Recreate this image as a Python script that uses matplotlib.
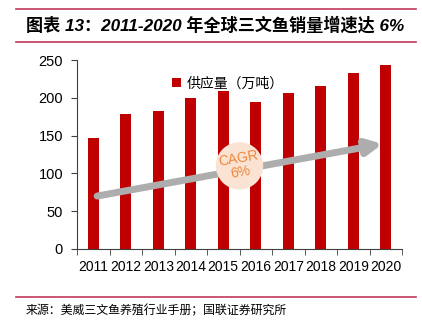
import matplotlib
matplotlib.use("Agg")
import matplotlib.pyplot as plt
from matplotlib.patches import Ellipse

plt.rcParams['font.family'] = ['Liberation Sans', 'Noto Sans CJK SC', 'DejaVu Sans']

years = ['2011', '2012', '2013', '2014', '2015', '2016', '2017', '2018', '2019', '2020']
supply = [147, 179, 183, 200, 209, 195, 207, 215, 233, 244]
trend_start = (0.12, 70)
trend_end = (8.9, 139)
series_name = '供应量（万吨）'
title = '图表 13：2011-2020 年全球三文鱼销量增速达 6%'
source = '来源：美威三文鱼养殖行业手册；国联证券研究所'

red = '#C00000'
line_red = '#C0395A'

fig = plt.figure(figsize=(4.22, 3.23), dpi=100)
ax = fig.add_axes([77/422, 1-249/323, 325/422, 189/323])

x = list(range(len(years)))
ax.bar(x, supply, width=0.33, color=red, label=series_name, zorder=2)

ax.set_xlim(-0.5, len(years) - 0.5)
ax.set_ylim(0, 250)
ax.set_yticks([0, 50, 100, 150, 200, 250])
ax.set_xticks(x)
ax.set_xticklabels(years)
ax.set_xticks([i - 0.5 for i in range(len(years) + 1)], minor=True)
ax.tick_params(axis='x', which='major', length=0, pad=8, labelsize=10)
ax.tick_params(axis='x', which='minor', length=4, direction='out', color='#404040')
ax.tick_params(axis='y', length=4, direction='out', labelsize=10.5, pad=6, color='#404040')
for s in ['top', 'right']:
    ax.spines[s].set_visible(False)
ax.spines['left'].set_color('#404040')
ax.spines['bottom'].set_color('#404040')

# trend arrow
ax.annotate('', xy=trend_end, xytext=trend_start,
            arrowprops=dict(arrowstyle='-|>,head_length=0.9,head_width=0.45', lw=5,
                            color='#ADADAD', shrinkA=0, shrinkB=0), zorder=3)

# CAGR bubble
bx, by = 4.5, 110
ell = Ellipse((bx, by), width=46/32.5, height=46/0.756, color='#FBE3D3', zorder=4)
ax.add_patch(ell)
ax.text(bx, by, 'CAGR\n6%', ha='center', va='center', color='#F0863C', fontsize=10,
        rotation=10, linespacing=1.0, zorder=5)

leg = ax.legend(loc='upper left', bbox_to_anchor=(0.255, 0.98), frameon=False,
                handlelength=0.6, handleheight=0.6, handletextpad=0.4,
                prop={'family': ['Noto Sans CJK SC'], 'size': 10})

# header / footer
fig.add_artist(plt.Line2D([16/422, 416/422], [1-9/323, 1-9/323], color=line_red, lw=1.2))
fig.add_artist(plt.Line2D([16/422, 416/422], [1-42/323, 1-42/323], color=line_red, lw=1.2))
fig.add_artist(plt.Line2D([16/422, 416/422], [1-297/323, 1-297/323], color=line_red, lw=1.2))
fig.text(26/422, 1-25/323, title, ha='left', va='center', fontsize=12.3,
         fontweight='bold', style='italic', family=['Liberation Sans', 'Noto Sans CJK SC'])
fig.text(26/422, 1-311/323, source, ha='left', va='center', fontsize=8.6,
         family=['Noto Sans CJK SC'])

fig.savefig('out.png', dpi=100)
